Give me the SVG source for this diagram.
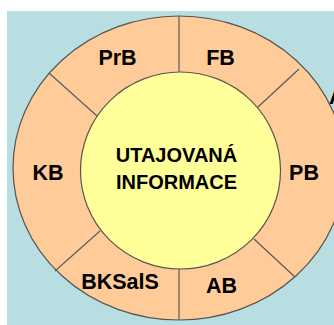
<svg xmlns="http://www.w3.org/2000/svg" width="334" height="325" viewBox="0 0 334 325">
<style>
.ln{stroke:#5a5a5a;stroke-width:1.2;fill:none}
.lbl{font-family:"Liberation Sans",Arial,sans-serif;font-weight:bold;font-size:21.5px;fill:#000;text-anchor:middle}
.ctr{font-family:"Liberation Sans",Arial,sans-serif;font-weight:bold;font-size:20px;fill:#000;text-anchor:middle}
</style>
<rect width="334" height="325" fill="#ffffff"/>
<rect x="7" y="11" width="327" height="314" fill="#B8DEE2"/>
<g id="ring">
<ellipse cx="179" cy="168" rx="166" ry="152" fill="#FFCC99" stroke="#555" stroke-width="1.2"/>
</g>
<g id="core">
<ellipse cx="180.5" cy="170.5" rx="100" ry="98.5" fill="#FFFF99" stroke="#555" stroke-width="1.2"/>
<text class="ctr" x="176.5" y="162">UTAJOVANÁ</text>
<text class="ctr" x="176.5" y="189">INFORMACE</text>
</g>
<g id="connectors">
<line class="ln" x1="179" y1="16" x2="179" y2="72"/>
<line class="ln" x1="179" y1="269" x2="179" y2="320"/>
<line class="ln" x1="49" y1="73" x2="97" y2="116"/>
<line class="ln" x1="299" y1="69" x2="258" y2="107"/>
<line class="ln" x1="55" y1="271" x2="100" y2="231"/>
<line class="ln" x1="295" y1="277" x2="254" y2="239"/>
</g>
<g id="PrB"><text class="lbl" x="117.5" y="65">PrB</text></g>
<g id="FB"><text class="lbl" x="220.5" y="65">FB</text></g>
<g id="KB"><text class="lbl" x="48" y="180">KB</text></g>
<g id="PB"><text class="lbl" x="304" y="180">PB</text></g>
<g id="BKSalS"><text class="lbl" x="120" y="289">BKSalS</text></g>
<g id="AB"><text class="lbl" x="221.5" y="293">AB</text></g>
<g id="A"><text class="lbl" x="329" y="104" style="text-anchor:start">A</text></g>
</svg>
